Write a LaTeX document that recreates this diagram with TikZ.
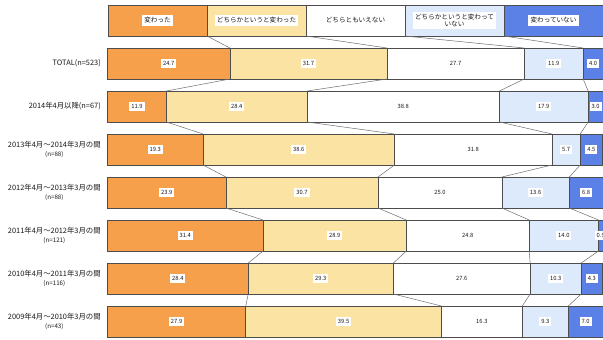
\documentclass[tikz,border=0pt]{standalone}
\usepackage{fontspec}
\setmainfont{Noto Sans CJK JP}
\definecolor{c1}{HTML}{F7A04B}
\definecolor{c2}{HTML}{FBE3A3}
\definecolor{c3}{HTML}{FFFFFF}
\definecolor{c4}{HTML}{DCEAFB}
\definecolor{c5}{HTML}{5B80E6}
\definecolor{edge}{HTML}{4D4D4D}
\definecolor{conn}{HTML}{6E6E6E}
\tikzset{
  seg/.style={draw=edge, line width=0.7pt, minimum height=31pt, inner sep=0pt, outer sep=0pt, anchor=north west},
  val/.style={fill=white, font=\fontsize{5.8}{7}\selectfont, inner sep=2pt, text=black!90},
  lbl/.style={font=\fontsize{7.4}{9}\selectfont, anchor=east, align=center, inner sep=0pt, text=black!90},
  legbox/.style={draw=edge, line width=0.7pt, minimum width=99pt, minimum height=31pt, inner sep=0pt, outer sep=0pt, anchor=north west},
  legtxt/.style={fill=white, font=\fontsize{6.6}{7.8}\selectfont, inner sep=2.2pt, align=center, text=black!90},
  connl/.style={draw=conn, line width=0.5pt}
}
\newcommand{\drawrow}[8]{%
  \gdef\xcur{107.5}%
  \foreach \v [count=\i] in {#3,#4,#5,#6,#7}{%
    \pgfmathsetmacro\w{\v*4.955}%
    \node[seg, fill=c\i, minimum width=\w pt] (#1s\i) at (\xcur,#2) {};%
    \node[val] (#1v\i) at (#1s\i.center) {\v};%
    \pgfmathsetmacro\xn{\xcur+\w}%
    \xdef\xcur{\xn}%
  }%
  \node[lbl] (#1l) at (101,#2+15.5) {#8};%
}
\newcommand{\joinrows}[2]{%
  \foreach \i in {1,2,3,4}{\draw[connl] (#1s\i.south east) -- (#2s\i.north east);}%
}
\newcommand{\sm}[1]{{\fontsize{6.2}{7.5}\selectfont #1}}
\begin{document}
\begin{tikzpicture}[x=1pt,y=-1pt]
\useasboundingbox (0,0) rectangle (603,340);
\clip (0,0) rectangle (603,340);
\fill[white] (0,0) rectangle (603,340);
% legend
\node[legbox, fill=c1] (L1) at (108,5) {};
\node[legbox, fill=c2] (L2) at (207,5) {};
\node[legbox, fill=c3] (L3) at (306,5) {};
\node[legbox, fill=c4] (L4) at (405,5) {};
\node[legbox, fill=c5] (L5) at (504,5) {};
\node[legtxt] (T1) at (L1.center) {変わった};
\node[legtxt] (T2) at (L2.center) {どちらかというと変わった};
\node[legtxt] (T3) at (L3.center) {どちらともいえない};
\node[legtxt, font=\fontsize{6.6}{7.2}\selectfont] (T4) at (L4.center) {どちらかというと変わって\\いない};
\node[legtxt] (T5) at (L5.center) {変わっていない};
% rows
\drawrow{ra}{48}{24.7}{31.7}{27.7}{11.9}{4.0}{TOTAL(n=523)}
\drawrow{rb}{91}{11.9}{28.4}{38.8}{17.9}{3.0}{2014年4月以降(n=67)}
\drawrow{rc}{134}{19.3}{38.6}{31.8}{5.7}{4.5}{2013年4月～2014年3月の間\\\sm{(n=88)}}
\drawrow{rd}{177}{23.9}{30.7}{25.0}{13.6}{6.8}{2012年4月～2013年3月の間\\\sm{(n=88)}}
\drawrow{re}{220}{31.4}{28.9}{24.8}{14.0}{0.9}{2011年4月～2012年3月の間\\\sm{(n=121)}}
\drawrow{rf}{263}{28.4}{29.3}{27.6}{10.3}{4.3}{2010年4月～2011年3月の間\\\sm{(n=116)}}
\drawrow{rg}{306}{27.9}{39.5}{16.3}{9.3}{7.0}{2009年4月～2010年3月の間\\\sm{(n=43)}}
% connectors
\foreach \i in {1,2,3,4}{\draw[connl] (L\i.south east) -- (ras\i.north east);}
\joinrows{ra}{rb}
\joinrows{rb}{rc}
\joinrows{rc}{rd}
\joinrows{rd}{re}
\joinrows{re}{rf}
\joinrows{rf}{rg}
\end{tikzpicture}
\end{document}
